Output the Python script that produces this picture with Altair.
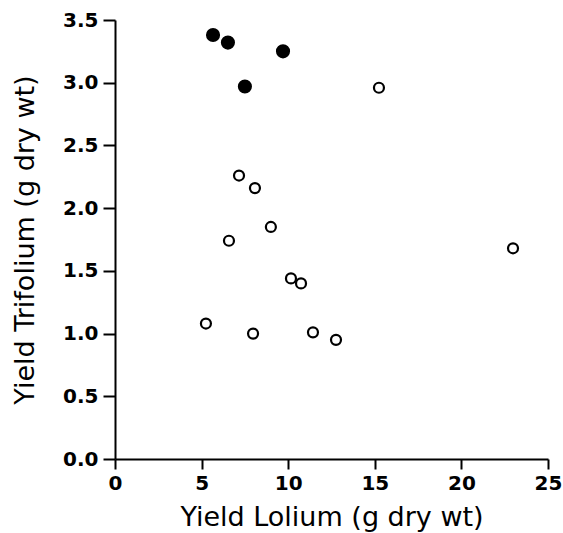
import altair as alt
import pandas as pd

# Filled circles
filled_x = [5.66, 6.52, 9.70, 7.50]
filled_y = [3.38, 3.32, 3.25, 2.97]

# Open circles
open_x = [15.24, 7.16, 8.08, 9.00, 6.58, 22.98, 10.16, 10.74, 5.25, 7.97, 11.43, 12.76]
open_y = [2.96, 2.26, 2.16, 1.85, 1.74, 1.68, 1.44, 1.40, 1.08, 1.00, 1.01, 0.95]

x_ticks = [0, 5, 10, 15, 20, 25]
y_ticks = [0.0, 0.5, 1.0, 1.5, 2.0, 2.5, 3.0, 3.5]

df_f = pd.DataFrame({"x": filled_x, "y": filled_y})
df_o = pd.DataFrame({"x": open_x, "y": open_y})

FONT = "DejaVu Sans"

xs = alt.Scale(domain=[0, 25], nice=False, zero=False)
ys = alt.Scale(domain=[0, 3.5], nice=False, zero=False)

xaxis = alt.Axis(
    title="Yield Lolium (g dry wt)", values=x_ticks, format="d", grid=False, labelFlush=False,
    domainColor="black", domainWidth=2, tickColor="black", tickWidth=2, tickSize=10,
    labelFont=FONT, labelFontSize=20, labelFontWeight="bold", labelColor="black", labelPadding=4,
    titleFont=FONT, titleFontSize=27, titleFontWeight="normal", titleColor="black",
    titleBaseline="alphabetic", titleY=66, titleX=216.5, titleAlign="center",
)
yaxis = alt.Axis(
    title="Yield Trifolium (g dry wt)", values=y_ticks, format=".1f", grid=False, labelFlush=False,
    domainColor="black", domainWidth=2, tickColor="black", tickWidth=2, tickSize=12,
    labelFont=FONT, labelFontSize=20, labelFontWeight="bold", labelColor="black", labelPadding=5,
    titleFont=FONT, titleFontSize=27, titleFontWeight="normal", titleColor="black",
    titleAngle=-90, titleBaseline="alphabetic", titleX=-82, titleY=219.5, titleAlign="center",
)

open_layer = alt.Chart(df_o).mark_point(
    shape="circle", filled=False, fill="white", stroke="black", strokeWidth=2.2, size=100, opacity=1
).encode(
    x=alt.X("x:Q", scale=xs, axis=xaxis),
    y=alt.Y("y:Q", scale=ys, axis=yaxis),
)

filled_layer = alt.Chart(df_f).mark_point(
    shape="circle", filled=True, fill="black", stroke="black", strokeWidth=0, size=200, opacity=1
).encode(
    x=alt.X("x:Q", scale=xs, axis=xaxis),
    y=alt.Y("y:Q", scale=ys, axis=yaxis),
)

chart = alt.layer(open_layer, filled_layer).properties(
    width=433, height=439,
    autosize=alt.AutoSizeParams(type="none"),
    padding={"left": 115, "top": 20, "right": 15, "bottom": 74},
    background="white",
).configure_view(stroke=None)

chart.save("out.html", embed_options={"renderer": "svg", "actions": False})
